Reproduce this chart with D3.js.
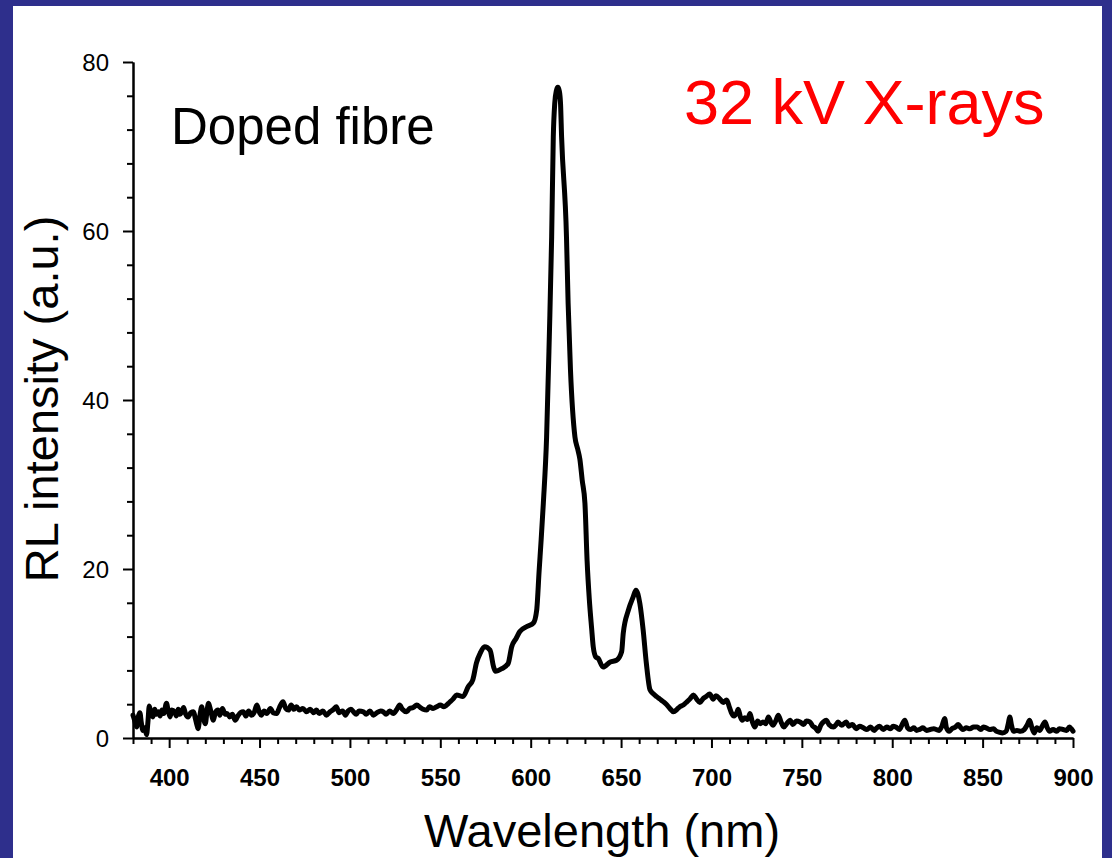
<!DOCTYPE html>
<html>
<head>
<meta charset="utf-8">
<script src="https://cdn.jsdelivr.net/npm/d3@7"></script>
<style>
  html, body { margin: 0; padding: 0; background: #2e2f8c; }
  svg { display: block; }
  text { font-family: "Liberation Sans", Arial, Helvetica, sans-serif; }
</style>
</head>
<body>
<svg id="chart" width="1112" height="858"></svg>
<script>
// ---- data ----
const wavelengths = [
  380, 381, 382, 383, 383.8, 384.6, 385.5, 386.5, 387.5, 388.3, 389, 390, 391, 392, 393, 394, 395, 396, 397, 398.5,
  399.5, 400.5, 401.5, 403, 404, 405, 406, 407, 408, 409, 410.5, 412, 413.5, 414.5, 415.3, 416, 417, 418, 419, 420,
  421, 421.8, 423, 424.5, 425.5, 427, 428, 429.5, 431, 432, 433.5, 435, 436.5, 438, 439.5, 441, 442.5, 444, 445.5, 447,
  448.5, 450, 451, 452.5, 454, 456, 457.5, 459.5, 461, 463, 464.5, 466, 467.5, 469, 470.5, 472, 474, 476, 478, 480,
  481.5, 483, 485, 487, 489, 491, 492.5, 494, 496, 497.5, 499, 500.5, 502, 503.5, 505, 507.5, 509, 511, 513, 515,
  517, 518.5, 520, 522, 524, 526, 527.5, 529, 531.5, 533, 535, 537, 539, 540.5, 542.5, 544, 546, 548, 550, 552,
  553.5, 555, 557, 559, 562.5, 565.5, 568, 570, 572, 574.5, 577.5, 579.5, 580.5, 584, 587.5, 589.5, 592, 594, 598, 601.5,
  603.3, 604.7, 605.8, 607, 608.8, 610.3, 611.6, 612.5, 613.3, 614.2, 615, 615.8, 616.5, 617.1, 619.8, 620.7, 622, 624.5, 626, 627.2,
  628.5, 630, 631.2, 632.4, 633.7, 634.6, 636, 637.4, 640, 644, 647.5, 650.3, 651.2, 654, 656.7, 658.2, 660.4, 662.2, 664, 666,
  668, 669.7, 671.5, 673.3, 675, 677, 679, 681, 682.5, 684.4, 686, 688, 690, 691.8, 693.6, 695.5, 697, 699, 701, 702.5,
  704.7, 706.5, 708.4, 710, 711, 712.5, 714, 714.8, 716, 717, 718.5, 720, 721.3, 722.5, 724, 725.5, 727, 728.5, 730, 731.5,
  733, 734, 735.5, 737, 738.5, 740, 742, 743.5, 745, 747, 749, 751, 752.5, 754.5, 756, 757.5, 759, 760.5, 762, 763.5,
  765, 767.5, 769, 770, 772, 774.5, 776, 778, 780, 782, 784, 786, 788, 790, 791, 793, 795, 797, 799, 800.5,
  802, 804, 805.5, 807, 808.5, 810, 812, 813.5, 815, 817, 819, 821, 823, 824.5, 826, 827.5, 829, 830, 831.5, 833,
  835, 836.5, 838, 839, 841, 843, 845, 847, 849, 850.5, 852, 854, 856, 857.5, 859, 861, 863, 864.3, 865, 866,
  867, 869, 871, 873, 874.8, 876, 877.3, 878.5, 880, 881.5, 883, 884.5, 885.8, 887, 889, 891, 892.5, 894.5, 896.5, 898,
  899, 900
];
const intensities = [
  2.7, 2.0, 1.3, 2.6, 3.0, 1.8, 0.9, 1.2, 0.4, 2.0, 3.8, 2.9, 2.5, 3.4, 2.8, 3.1, 2.6, 3.3, 2.9, 4.1,
  3.2, 2.5, 3.3, 3.1, 2.6, 3.4, 2.8, 3.1, 3.6, 2.9, 2.5, 3.0, 3.1, 2.3, 1.6, 1.1, 2.6, 3.7, 2.4, 1.7,
  3.3, 4.1, 3.2, 2.1, 3.0, 3.3, 2.7, 3.5, 2.8, 2.9, 2.5, 2.8, 2.1, 2.6, 3.0, 3.1, 2.6, 3.2, 2.7, 3.0,
  3.9, 3.0, 2.7, 3.2, 2.9, 3.5, 3.0, 2.9, 3.6, 4.3, 3.5, 3.3, 3.9, 3.4, 3.7, 3.3, 3.5, 3.1, 3.4, 3.0,
  3.3, 2.9, 3.2, 2.7, 3.1, 3.4, 3.7, 3.0, 3.2, 2.7, 3.2, 3.4, 3.1, 2.8, 3.2, 3.1, 2.8, 3.2, 2.7, 3.0,
  3.2, 3.1, 2.8, 3.2, 2.9, 3.4, 3.9, 3.4, 3.1, 3.5, 3.6, 3.9, 3.6, 3.4, 3.3, 3.7, 3.5, 3.7, 3.9, 3.7,
  3.9, 4.2, 4.6, 5.1, 4.9, 6.1, 6.9, 8.9, 10.0, 10.8, 10.4, 8.4, 7.9, 8.2, 8.8, 10.8, 11.8, 12.6, 13.2, 13.6,
  15.1, 19.9, 23.5, 27.8, 35.6, 47.5, 59.3, 71.1, 75.1, 76.6, 77.0, 76.6, 75.1, 71.1, 59.3, 51.5, 43.6, 35.6, 34.2, 33.0,
  30.5, 27.8, 21.0, 16.5, 13.0, 10.8, 9.6, 9.4, 8.4, 9.0, 9.2, 10.2, 12.4, 15.1, 16.7, 17.5, 15.9, 12.8, 8.8, 5.7,
  5.2, 4.9, 4.6, 4.3, 4.0, 3.5, 3.1, 3.4, 3.7, 3.9, 4.2, 4.6, 5.1, 4.6, 4.2, 4.7, 4.9, 5.2, 4.6, 5.0,
  4.6, 4.2, 4.5, 3.6, 3.0, 2.6, 3.0, 3.4, 2.5, 2.1, 2.4, 2.2, 2.9, 2.0, 1.3, 2.0, 1.7, 1.9, 1.7, 2.5,
  1.8, 1.5, 2.0, 2.7, 1.9, 1.3, 1.8, 2.1, 1.6, 2.0, 1.9, 1.6, 2.0, 1.9, 1.4, 1.2, 0.8, 1.5, 1.9, 2.1,
  1.6, 1.3, 1.6, 1.9, 1.5, 1.9, 1.4, 1.6, 1.1, 1.4, 1.2, 1.0, 1.3, 0.9, 1.1, 1.4, 1.0, 1.3, 1.1, 1.4,
  1.3, 1.0, 1.6, 2.1, 1.2, 1.0, 1.2, 0.9, 1.0, 1.2, 0.9, 1.0, 1.1, 1.0, 0.9, 1.4, 2.3, 1.2, 0.8, 1.1,
  1.3, 1.6, 1.2, 1.0, 1.2, 1.1, 1.3, 1.3, 1.0, 1.3, 1.2, 1.0, 1.1, 0.8, 0.7, 0.6, 0.8, 1.8, 2.5, 1.5,
  0.8, 0.9, 0.8, 1.0, 1.6, 2.1, 1.2, 0.6, 1.2, 0.9, 1.4, 1.9, 1.2, 0.8, 1.0, 0.8, 1.1, 1.0, 0.9, 1.3,
  1.1, 0.8
];
const xTickValues = [400, 450, 500, 550, 600, 650, 700, 750, 800, 850, 900];
const yTickValues = [0, 20, 40, 60, 80];
const xTitle = "Wavelength (nm)";
const yTitle = "RL intensity (a.u.)";
const sampleLabel = "Doped fibre";
const sourceLabel = "32 kV X-rays";

// ---- drawing ----
const svg = d3.select("#chart");
const W = 1112, H = 858;

svg.append("rect").attr("x", 0).attr("y", 0).attr("width", W).attr("height", H).attr("fill", "#2e2f8c");
svg.append("rect").attr("x", 13).attr("y", 6).attr("width", 1102 - 13).attr("height", H - 6).attr("fill", "#ffffff");

const x = d3.scaleLinear().domain([380, 900]).range([133, 1073]);
const y = d3.scaleLinear().domain([0, 80]).range([738, 62]);

// minor ticks
const xMinor = d3.range(380, 901, 10).filter(v => v % 50 !== 0);
const yMinor = d3.range(0, 81, 4).filter(v => v % 20 !== 0);

const gxMinor = svg.append("g").attr("transform", "translate(0,738)")
  .call(d3.axisBottom(x).tickValues(xMinor).tickSize(6).tickSizeOuter(0).tickFormat(""));
const gyMinor = svg.append("g").attr("transform", "translate(133,0)")
  .call(d3.axisLeft(y).tickValues(yMinor).tickSize(6).tickSizeOuter(0).tickFormat(""));

const gx = svg.append("g").attr("transform", "translate(0,738)")
  .call(d3.axisBottom(x).tickValues(xTickValues).tickSize(10).tickSizeOuter(0).tickFormat(d3.format("d")));
const gy = svg.append("g").attr("transform", "translate(133,0)")
  .call(d3.axisLeft(y).tickValues(yTickValues).tickSize(10).tickSizeOuter(0).tickPadding(14).tickFormat(d3.format("d")));

[gxMinor, gyMinor, gx, gy].forEach(g => {
  g.selectAll("path.domain").attr("stroke", "#000").attr("stroke-width", 2);
  g.selectAll(".tick line").attr("stroke", "#000").attr("stroke-width", 2);
});

gx.selectAll(".tick text")
  .attr("y", 48).attr("dy", 0)
  .attr("font-size", 24).attr("font-weight", "bold")
  .attr("font-family", "'Liberation Sans', Arial, sans-serif")
  .attr("fill", "#000");
gy.selectAll(".tick text")
  .attr("dy", "0.36em")
  .attr("font-size", 24)
  .attr("font-family", "'Liberation Sans', Arial, sans-serif")
  .attr("fill", "#000");

// spectrum line
const data = wavelengths.map((w, i) => ({ w, v: intensities[i] }));
const line = d3.line().x(d => x(d.w)).y(d => y(d.v)).curve(d3.curveMonotoneX);
svg.append("path")
  .datum(data)
  .attr("d", line)
  .attr("fill", "none")
  .attr("stroke", "#000")
  .attr("stroke-width", 5)
  .attr("stroke-linejoin", "round")
  .attr("stroke-linecap", "round");

// titles and labels
svg.append("text")
  .attr("x", 602).attr("y", 847)
  .attr("text-anchor", "middle")
  .attr("font-size", 47)
  .attr("fill", "#000")
  .text(xTitle);

svg.append("text")
  .attr("transform", "translate(58,399) rotate(-90)")
  .attr("text-anchor", "middle")
  .attr("font-size", 47)
  .attr("fill", "#000")
  .text(yTitle);

svg.append("text")
  .attr("x", 171).attr("y", 144)
  .attr("font-size", 51)
  .attr("fill", "#000")
  .text(sampleLabel);

svg.append("text")
  .attr("x", 684).attr("y", 124)
  .attr("font-size", 63)
  .attr("fill", "#ff0000")
  .text(sourceLabel);
</script>
</body>
</html>
